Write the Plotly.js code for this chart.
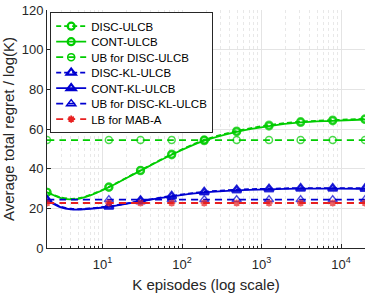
<!DOCTYPE html>
<html><head><meta charset="utf-8">
<script src="https://cdn.plot.ly/plotly-3.0.1.min.js"></script>
<style>html,body{margin:0;padding:0;background:#fff}#chart{width:374px;height:296px}</style>
</head><body><div id="chart"></div>
<script>
// K episodes (sample points)
const K = [2, 3, 4, 5, 7, 12, 30, 74, 190, 486, 1240, 3100, 7850, 20000];
// 1 = marker drawn at this point
const marks = [1, 0, 0, 0, 0, 1, 1, 1, 1, 1, 1, 1, 1, 1];
const discULCB   = [28.1, 25.5, 24.8, 25.1, 26.8, 30.8, 39.2, 47.3, 54.5, 59.0, 62.0, 63.7, 64.5, 65.1];
const contULCB   = [28.1, 25.2, 24.5, 24.8, 26.5, 30.6, 39.0, 47.0, 54.1, 58.6, 61.5, 63.3, 64.1, 64.8];
const ubDiscULCB = [54.4, 54.4, 54.4, 54.4, 54.4, 54.4, 54.4, 54.4, 54.4, 54.4, 54.4, 54.4, 54.4, 54.4];
const discKL     = [24.2, 20.8, 19.8, 19.6, 20.0, 21.0, 23.7, 26.3, 28.3, 29.4, 29.9, 30.2, 30.2, 30.1];
const contKL     = [24.0, 20.5, 19.5, 19.4, 19.8, 20.8, 23.5, 26.0, 28.0, 29.1, 29.6, 29.9, 29.9, 29.8];
const ubDiscKL   = [24.4, 24.4, 24.4, 24.4, 24.4, 24.4, 24.4, 24.4, 24.4, 24.4, 24.4, 24.4, 24.4, 24.4];
const lbMABA     = [22.7, 22.7, 22.7, 22.7, 22.7, 22.7, 22.7, 22.7, 22.7, 22.7, 22.7, 22.7, 22.7, 22.7];
const names = ['DISC-ULCB', 'CONT-ULCB', 'UB for DISC-ULCB', 'DISC-KL-ULCB', 'CONT-KL-ULCB', 'UB for DISC-KL-ULCB', 'LB for MAB-A'];
const xTickVals = [10, 100, 1000, 10000];
const xTickText = ['10<sup>1</sup>', '10<sup>2</sup>', '10<sup>3</sup>', '10<sup>4</sup>'];

const G = '#00cc00', B = '#0000d0', R = '#e82020';
const series = [
  {y: discULCB,   c: G, dash: '5px,3px', sym: 'circle-open', ms: 7, mw: 2.2},
  {y: contULCB,   c: G, dash: 'solid',   sym: 'circle-open', ms: 7, mw: 2.2},
  {y: ubDiscULCB, c: G, dash: '7px,5px', sym: 'circle-open', ms: 7, mw: 1.5},
  {y: discKL,     c: B, dash: '5px,3px', sym: 'triangle-up-open', ms: 8, mw: 2.2},
  {y: contKL,     c: B, dash: 'solid',   sym: 'triangle-up-open', ms: 8, mw: 2.2},
  {y: ubDiscKL,   c: B, dash: '7px,5px', sym: 'triangle-up-open', ms: 8, mw: 1.5},
  {y: lbMABA,     c: R, dash: '7px,5px', sym: 'asterisk-open', ms: 6, mw: 1.8}
];
const traces = [];
series.forEach((s, i) => {
  traces.push({
    x: K, y: s.y, type: 'scatter', mode: 'lines+markers', showlegend: false,
    line: {color: s.c, width: 1.8, dash: s.dash, shape: 'spline', smoothing: 0.8},
    marker: {symbol: s.sym, size: marks.map(m => m ? s.ms : 0), color: s.c, line: {color: s.c, width: s.mw}}
  });
});
series.forEach((s, i) => {
  traces.push({
    x: [null], y: [null], type: 'scatter', mode: 'lines+markers', name: names[i],
    line: {color: s.c, width: 1.8, dash: s.dash},
    marker: {symbol: s.sym, size: s.ms, color: s.c, line: {color: s.c, width: s.mw}}
  });
});

const axc = '#262626';
const layout = {
  width: 374, height: 296,
  margin: {l: 47, r: 9, t: 10, b: 48},
  paper_bgcolor: '#fff', plot_bgcolor: '#fff',
  font: {family: 'Liberation Sans, Arial, sans-serif', color: axc, size: 13},
  showlegend: true,
  legend: {x: 0.01, y: 0.99, xanchor: 'left', yanchor: 'top', bgcolor: '#fff',
           bordercolor: axc, borderwidth: 1, font: {size: 11.5, color: '#000'},
           tracegroupgap: 0, itemwidth: 30},
  xaxis: {
    type: 'log', range: [Math.log10(2), Math.log10(20000)],
    tickvals: xTickVals, ticktext: xTickText,
    showline: true, linecolor: axc, linewidth: 1, ticks: 'inside', ticklen: 4, tickcolor: axc,
    ticklabelstandoff: 4,
    showgrid: true, gridcolor: '#e4e4e4', gridwidth: 1, zeroline: false,
    minor: {ticks: 'inside', ticklen: 2, tickcolor: axc, showgrid: true, gridcolor: '#e8e8e8', griddash: 'dot', dtick: 'D1'},
    title: {text: 'K episodes (log scale)', font: {size: 15, color: axc}, standoff: 8},
    tickfont: {size: 13, color: axc}
  },
  yaxis: {
    range: [0, 120], tickvals: [0, 20, 40, 60, 80, 100, 120],
    showline: true, linecolor: axc, linewidth: 1, ticks: 'inside', ticklen: 4, tickcolor: axc,
    showgrid: true, gridcolor: '#e4e4e4', gridwidth: 1, zeroline: false,
    title: {text: 'Average total regret / log(K)', font: {size: 15, color: axc}, standoff: 4},
    tickfont: {size: 13, color: axc}
  }
};
Plotly.newPlot('chart', traces, layout, {staticPlot: true, displayModeBar: false}).then(gd => {
  // tighten legend row spacing to match the reference
  const leg = gd.querySelector('.legend');
  if (!leg) return;
  const items = Array.from(leg.querySelectorAll('g.traces'));
  if (items.length < 2) return;
  const getT = el => {
    const m = /translate\(\s*([-\d.e]+)[\s,]+([-\d.e]+)\s*\)/.exec(el.getAttribute('transform') || '');
    return m ? [+m[1], +m[2]] : [0, 0];
  };
  const step = 15.5;
  const t0 = getT(items[0]), t1 = getT(items[1]);
  const s0 = t1[1] - t0[1];
  if (!(s0 > step)) return;
  const y0 = t0[1] - (s0 - step) / 2;
  items.forEach((el, i) => {
    const t = getT(el);
    el.setAttribute('transform', 'translate(' + t[0] + ',' + (y0 + i * step) + ')');
  });
  const bg = leg.querySelector('rect.bg');
  if (bg) {
    const h = +bg.getAttribute('height');
    bg.setAttribute('height', h - items.length * (s0 - step));
  }
});
</script></body></html>
